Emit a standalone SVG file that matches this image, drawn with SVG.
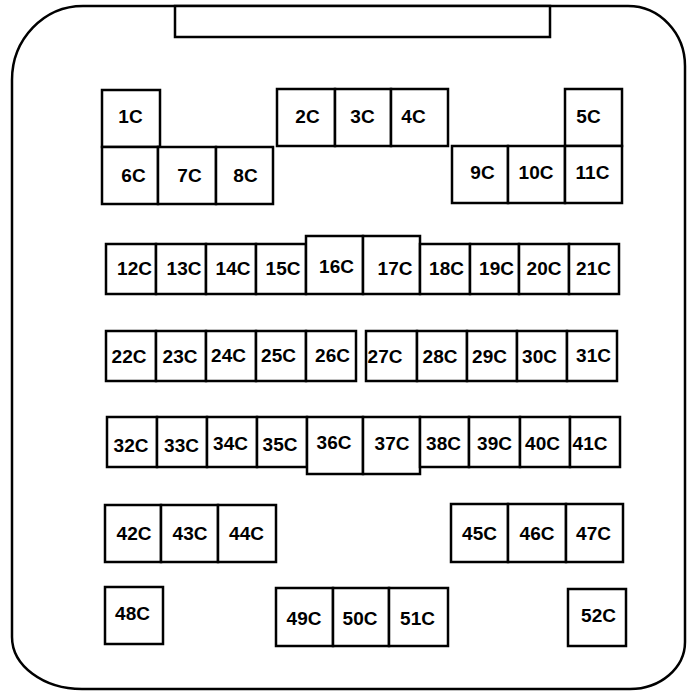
<svg xmlns="http://www.w3.org/2000/svg" width="688" height="691" viewBox="0 0 688 691">
<style>
.b{fill:#fff;stroke:#000;stroke-width:2.5}
.f{fill:none;stroke:#000;stroke-width:2.5}
text{font-family:"Liberation Sans",Arial,sans-serif;font-weight:bold;font-size:19px;text-anchor:middle;fill:#000}
</style>
<rect width="688" height="691" fill="#fff"/>
<g id="frame">
<path class="f" d="M83 6 H628 A57 60 0 0 1 685 66 V642 A55 47 0 0 1 630 689 H82 A70 52 0 0 1 12 637 V80 A71 74 0 0 1 83 6 Z"/>
<rect class="b" x="175" y="6" width="375" height="31"/>
</g>
<g id="connectors"></g>
<g id="n1"><rect class="b" x="102" y="90" width="58" height="57"/><text x="130.5" y="123">1C</text></g>
<g id="n2"><rect class="b" x="277" y="89" width="58" height="57"/><text x="307.5" y="123">2C</text></g>
<g id="n3"><rect class="b" x="335" y="89" width="56" height="57"/><text x="362.5" y="123">3C</text></g>
<g id="n4"><rect class="b" x="391" y="89" width="57" height="57"/><text x="413.5" y="123">4C</text></g>
<g id="n5"><rect class="b" x="565" y="89" width="57" height="57"/><text x="588.5" y="123">5C</text></g>
<g id="n6"><rect class="b" x="102" y="147" width="56" height="57"/><text x="133.5" y="182">6C</text></g>
<g id="n7"><rect class="b" x="158" y="147" width="58" height="57"/><text x="189.5" y="182">7C</text></g>
<g id="n8"><rect class="b" x="216" y="147" width="57" height="57"/><text x="245.5" y="182">8C</text></g>
<g id="n9"><rect class="b" x="452" y="146" width="56" height="57"/><text x="482.5" y="179">9C</text></g>
<g id="n10"><rect class="b" x="508" y="146" width="57" height="57"/><text x="536" y="179">10C</text></g>
<g id="n11"><rect class="b" x="565" y="146" width="57" height="57"/><text x="592.5" y="179">11C</text></g>
<g id="n12"><rect class="b" x="106" y="244" width="50" height="50"/><text x="134.5" y="275">12C</text></g>
<g id="n13"><rect class="b" x="156" y="244" width="50" height="50"/><text x="184" y="275">13C</text></g>
<g id="n14"><rect class="b" x="206" y="244" width="50" height="50"/><text x="233" y="275">14C</text></g>
<g id="n15"><rect class="b" x="256" y="244" width="50" height="50"/><text x="283" y="275">15C</text></g>
<g id="n16"><rect class="b" x="306" y="236" width="57" height="58"/><text x="336.5" y="273">16C</text></g>
<g id="n17"><rect class="b" x="363" y="236" width="57" height="58"/><text x="395" y="275">17C</text></g>
<g id="n18"><rect class="b" x="420" y="244" width="50" height="50"/><text x="446.5" y="275">18C</text></g>
<g id="n19"><rect class="b" x="470" y="244" width="49" height="50"/><text x="496.5" y="275">19C</text></g>
<g id="n20"><rect class="b" x="519" y="244" width="50" height="50"/><text x="544" y="275">20C</text></g>
<g id="n21"><rect class="b" x="569" y="244" width="50" height="50"/><text x="593.5" y="275">21C</text></g>
<g id="n22"><rect class="b" x="106" y="331" width="50" height="50"/><text x="129" y="363">22C</text></g>
<g id="n23"><rect class="b" x="156" y="331" width="50" height="50"/><text x="180" y="363">23C</text></g>
<g id="n24"><rect class="b" x="206" y="331" width="50" height="50"/><text x="228.5" y="362">24C</text></g>
<g id="n25"><rect class="b" x="256" y="331" width="50" height="50"/><text x="278.5" y="362">25C</text></g>
<g id="n26"><rect class="b" x="306" y="331" width="50" height="50"/><text x="332.5" y="362">26C</text></g>
<g id="n27"><rect class="b" x="366" y="331" width="51" height="50"/><text x="385" y="363">27C</text></g>
<g id="n28"><rect class="b" x="417" y="331" width="50" height="50"/><text x="440" y="363">28C</text></g>
<g id="n29"><rect class="b" x="467" y="331" width="50" height="50"/><text x="489.5" y="363">29C</text></g>
<g id="n30"><rect class="b" x="517" y="331" width="50" height="50"/><text x="539.5" y="363">30C</text></g>
<g id="n31"><rect class="b" x="567" y="331" width="50" height="50"/><text x="593.5" y="362">31C</text></g>
<g id="n32"><rect class="b" x="107" y="417" width="50" height="50"/><text x="131" y="452">32C</text></g>
<g id="n33"><rect class="b" x="157" y="417" width="50" height="50"/><text x="181.5" y="452">33C</text></g>
<g id="n34"><rect class="b" x="207" y="417" width="50" height="50"/><text x="230.5" y="450">34C</text></g>
<g id="n35"><rect class="b" x="257" y="417" width="50" height="50"/><text x="280" y="451">35C</text></g>
<g id="n36"><rect class="b" x="307" y="417" width="56" height="57"/><text x="334" y="449">36C</text></g>
<g id="n37"><rect class="b" x="363" y="417" width="57" height="57"/><text x="392" y="450">37C</text></g>
<g id="n38"><rect class="b" x="420" y="417" width="49" height="50"/><text x="443.5" y="450">38C</text></g>
<g id="n39"><rect class="b" x="469" y="417" width="51" height="50"/><text x="494.5" y="450">39C</text></g>
<g id="n40"><rect class="b" x="520" y="417" width="50" height="50"/><text x="542.5" y="450">40C</text></g>
<g id="n41"><rect class="b" x="570" y="417" width="50" height="50"/><text x="590" y="450">41C</text></g>
<g id="n42"><rect class="b" x="105" y="505" width="56" height="57"/><text x="134" y="540">42C</text></g>
<g id="n43"><rect class="b" x="161" y="505" width="57" height="57"/><text x="190" y="540">43C</text></g>
<g id="n44"><rect class="b" x="218" y="505" width="58" height="57"/><text x="246.5" y="540">44C</text></g>
<g id="n45"><rect class="b" x="451" y="504" width="57" height="58"/><text x="479.5" y="540">45C</text></g>
<g id="n46"><rect class="b" x="508" y="504" width="58" height="58"/><text x="537" y="540">46C</text></g>
<g id="n47"><rect class="b" x="566" y="504" width="57" height="58"/><text x="593.5" y="540">47C</text></g>
<g id="n48"><rect class="b" x="105" y="587" width="58" height="57"/><text x="132.5" y="620">48C</text></g>
<g id="n49"><rect class="b" x="276" y="588" width="57" height="58"/><text x="304" y="625">49C</text></g>
<g id="n50"><rect class="b" x="333" y="588" width="56" height="58"/><text x="360" y="625">50C</text></g>
<g id="n51"><rect class="b" x="389" y="588" width="59" height="58"/><text x="417.5" y="625">51C</text></g>
<g id="n52"><rect class="b" x="568" y="589" width="58" height="57"/><text x="598.5" y="622">52C</text></g>
</svg>
